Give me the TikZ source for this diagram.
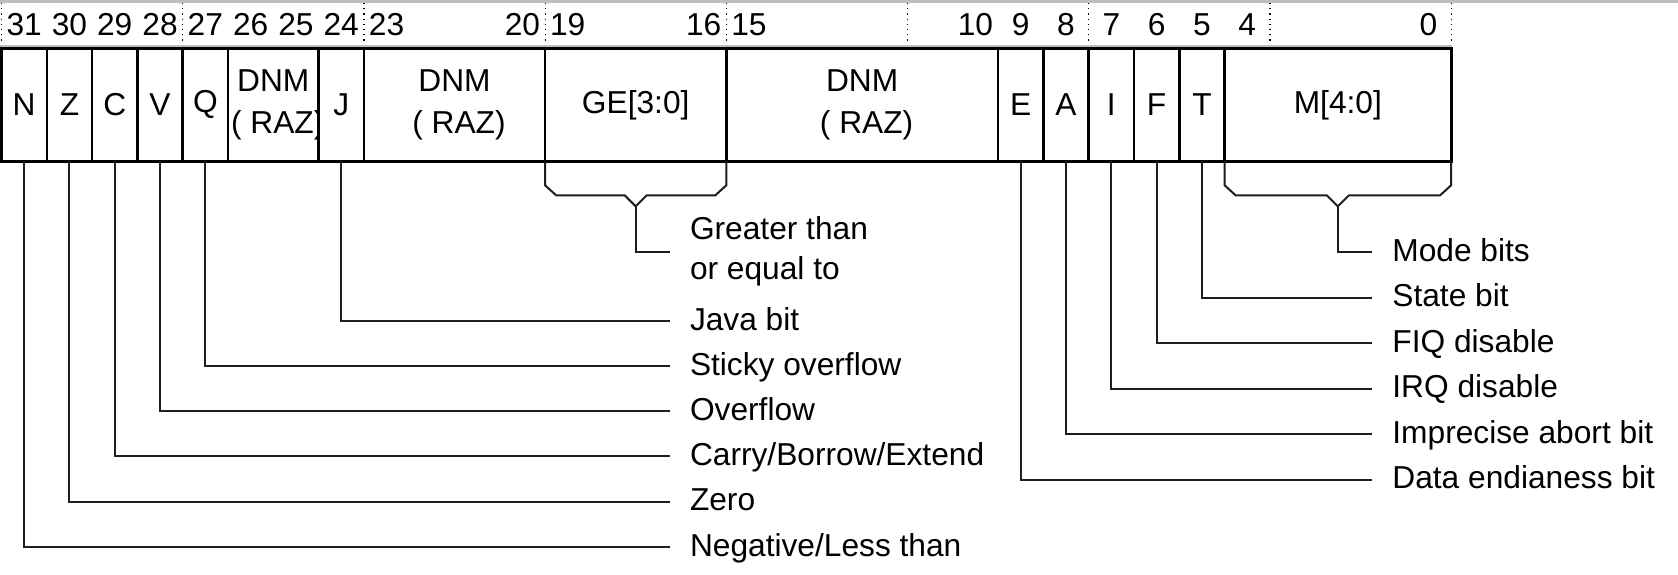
\documentclass[tikz,border=0pt]{standalone}
\usepackage{fontspec}
\setmainfont{Liberation Sans}
\usetikzlibrary{positioning, calc}
\definecolor{rulegray}{RGB}{190,190,190}
\definecolor{linkgray}{RGB}{30,30,30}
\newcommand{\bw}{45.3}

\begin{document}
\begin{tikzpicture}[x=0.5pt, y=-0.5pt,
  every node/.style={font=\fontsize{15.85pt}{20pt}\selectfont},
  field/.style={draw, line width=1.25pt, outer sep=0pt, inner sep=0pt, minimum height=56.5pt},
  fieldtxt/.style={inner sep=0pt, align=center, font=\fontsize{15.85pt}{20.6pt}\selectfont},
  bitnum/.style={inner sep=0pt},
  lbl/.style={anchor=west, inner xsep=10pt, inner ysep=0pt},
  onelbl/.style={lbl, text height=11.4pt, text depth=2pt},
  link/.style={linkgray, line width=1pt}]
  \useasboundingbox (0,0) rectangle (1678,574);
  % header rules
  \draw[rulegray, line width=1.3pt] (0,1.3) -- (1678,1.3);
  \draw[rulegray, line width=0.7pt] (0,46) -- (1452,46);
  \foreach \k in {0,...,8}
    \draw[dotted, line width=0.6pt] ({1.5+4*\k*\bw},3) -- ({1.5+4*\k*\bw},44);
  % bit numbers
  \foreach \bit in {31,30,29,28,27,26,25,24,23,20,19,16,15,10,9,8,7,6,5,4,0}
    \node[bitnum] (b\bit) at ({1.5+(31.5-\bit)*\bw},24.5) {\bit};
  % register fields
  \foreach \nm/\hi/\lo/\txt in {N/31/31/N, Z/30/30/Z, C/29/29/C, V/28/28/V, Q/27/27/Q,
      dnmA/26/25/{DNM\\\hspace*{0.28em}( RAZ)}, J/24/24/J, dnmB/23/20/{DNM\\\hspace*{0.28em}( RAZ)},
      GE/19/16/{GE[3:0]}, dnmC/15/10/{DNM\\\hspace*{0.28em}( RAZ)},
      E/9/9/E, A/8/8/A, I/7/7/I, F/6/6/F, T/5/5/T, M/4/0/{M[4:0]}} {
    \node[field, minimum width={(\hi-\lo+1)*\bw*0.5pt}] (\nm) at ({1.5+(63-\hi-\lo)/2*\bw},104.8) {};
    \begin{scope}
      \clip (\nm.south west) rectangle (\nm.north east);
      \node[fieldtxt] (\nm txt) at (\nm.center) {\txt};
    \end{scope}
  }
  \draw[line width=1.5pt] (N.north west) rectangle (M.south east);

  % labels, left column
  \node[lbl, align=left] (lGE) at (669.6,251.7) {Greater than\\or equal to};
  \node[onelbl] (lJava) at (669.6,320.7) {Java bit};
  \node[onelbl] (lSticky) at (669.6,365.7) {Sticky overflow};
  \node[onelbl] (lOvf) at (669.6,410.9) {Overflow};
  \node[onelbl] (lCarry) at (669.6,456.1) {Carry/Borrow/Extend};
  \node[onelbl] (lZero) at (669.6,501.5) {Zero};
  \node[onelbl] (lNeg) at (669.6,546.7) {Negative/Less than};
  % labels, right column
  \node[onelbl] (lMode) at (1372,251.7) {Mode bits};
  \node[onelbl] (lState) at (1372,297.5) {State bit};
  \node[onelbl] (lFIQ) at (1372,343) {FIQ disable};
  \node[onelbl] (lIRQ) at (1372,388.5) {IRQ disable};
  \node[onelbl] (lAbort) at (1372,434) {Imprecise abort bit};
  \node[onelbl] (lEndian) at (1372,479.5) {Data endianess bit};

  % single bit leaders
  \foreach \f/\l in {T/lState, F/lFIQ, I/lIRQ, A/lAbort, E/lEndian,
      J/lJava, Q/lSticky, V/lOvf, C/lCarry, Z/lZero, N/lNeg}
    \draw[link] (\f.south) |- (\l.west);

  % braces under multi-bit fields
  \foreach \g/\l in {GE/lGE, M/lMode} {
    \coordinate (\g tip) at ($(\g.south)+(0,45)$);
    \draw[link] (\g.south west) -- ++(0,24) -- ++(11,10) -- ($(\g tip)+(-11,-11)$) -- (\g tip)
      -- ($(\g tip)+(11,-11)$) -- ($(\g.south east)+(-11,34)$) -- ++(11,-10) -- (\g.south east);
    \draw[link] (\g tip) |- (\l.west);
  }
\end{tikzpicture}
\end{document}
